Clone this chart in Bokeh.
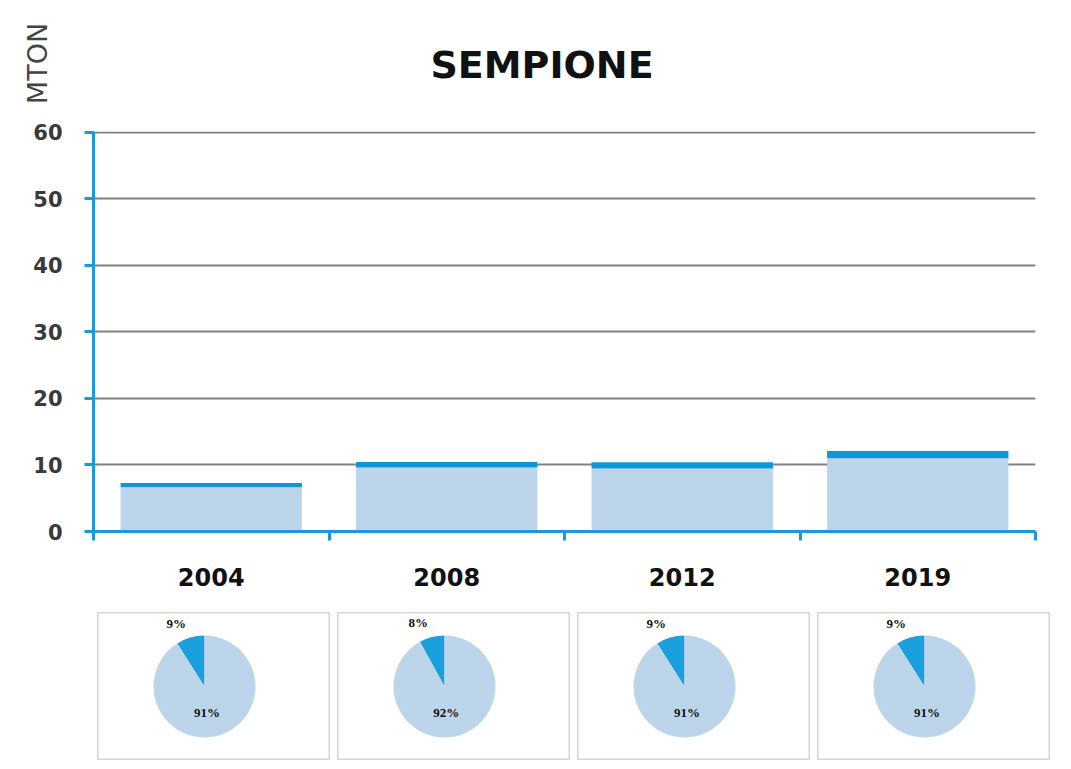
import math
from bokeh.plotting import figure
from bokeh.models import (FactorRange, Range1d, LinearAxis, FixedTicker,
                          ColumnDataSource, Spacer, Grid, CustomJSTickFormatter)
from bokeh.layouts import column, row
from bokeh.embed import file_html
from bokeh.resources import INLINE
from bokeh.core.properties import value

# ---------------- data ----------------
title_text = "SEMPIONE"
unit_label = "MTON"
years = ["2004", "2008", "2012", "2019"]
rail = [6.64, 9.61, 9.46, 11.0]      # light blue part of each bar
road = [0.66, 0.84, 0.94, 1.09]      # dark blue top part of each bar
road_share = [9, 8, 9, 9]            # % shown in the small pies
rail_share = [91, 92, 91, 91]
y_ticks = [0, 10, 20, 30, 40, 50, 60]

RAIL_C = "#bcd5eb"
ROAD_C = "#0e96d5"
PIE_ROAD_C = "#1aa0dc"
AXIS_C = "#1b9ad8"
FONT = "DejaVu Sans"

totals = [a + b for a, b in zip(rail, road)]
src = ColumnDataSource(dict(year=years, rail=rail, total=totals))

W = 1063
LEFT, RIGHT = 93, 28
HEAD_H = 118

# ---------------- header: title + unit label ----------------
h = figure(width=W, height=HEAD_H, x_range=Range1d(LEFT, W - RIGHT), y_range=Range1d(HEAD_H, 8),
           x_axis_location=None, y_axis_location=None,
           toolbar_location=None, output_backend="svg",
           min_border_left=LEFT, min_border_right=RIGHT, min_border_top=8, min_border_bottom=0)
h.outline_line_color = None
for g in h.grid:
    g.visible = False
unit_axis = LinearAxis(ticker=FixedTicker(ticks=[]), axis_line_color=None,
                       major_tick_line_color=None, minor_tick_line_color=None,
                       major_tick_out=0, major_label_standoff=0,
                       axis_label=unit_label, axis_label_standoff=41,
                       axis_label_text_font=FONT, axis_label_text_font_size="27px",
                       axis_label_text_font_style="normal", axis_label_text_color="#444444")
h.add_layout(unit_axis, "left")
h.text(x=[541.5], y=[64], text=[title_text], text_align="center", text_baseline="middle",
       text_font=value(FONT), text_font_size="38px", text_font_style="bold",
       text_color="#111111")

# ---------------- main bar chart ----------------
p = figure(width=W, height=612 - HEAD_H,
           x_range=FactorRange(factors=years), y_range=Range1d(0, 60.15),
           x_axis_location=None, y_axis_location=None,
           toolbar_location=None, output_backend="svg",
           min_border_left=LEFT, min_border_right=RIGHT,
           min_border_top=131 - HEAD_H, min_border_bottom=612 - HEAD_H - (131 - HEAD_H) - 400)
p.outline_line_color = None
for g in p.grid:
    g.visible = False

p.add_layout(Grid(dimension=1, ticker=FixedTicker(ticks=y_ticks[1:]),
                  grid_line_color="#808080", grid_line_width=2))

yax = LinearAxis(ticker=FixedTicker(ticks=y_ticks),
                 axis_line_color=AXIS_C, axis_line_width=3,
                 major_tick_line_color=AXIS_C, major_tick_line_width=3,
                 major_tick_out=9, major_tick_in=0, minor_tick_line_color=None,
                 major_label_standoff=22,
                 major_label_text_font=FONT, major_label_text_font_size="21px",
                 major_label_text_font_style="bold", major_label_text_color="#3a3a3a")
p.add_layout(yax, "left")

# one x axis: labels at category centres, tick marks at category boundaries
n = len(years)
xax = LinearAxis(ticker=FixedTicker(ticks=[i + 0.5 for i in range(n)],
                                    minor_ticks=list(range(n + 1))),
                 formatter=CustomJSTickFormatter(args=dict(names=years),
                                                 code="return names[Math.floor(tick)] || '';"),
                 axis_line_color=AXIS_C, axis_line_width=3,
                 major_tick_line_color=None, major_tick_out=0, major_tick_in=0,
                 minor_tick_line_color=AXIS_C, minor_tick_line_width=3,
                 minor_tick_out=9, minor_tick_in=0,
                 major_label_standoff=27,
                 major_label_text_font=FONT, major_label_text_font_size="24px",
                 major_label_text_font_style="bold", major_label_text_color="#111111")
p.add_layout(xax, "below")

p.vbar(x="year", bottom=0, top="rail", width=0.77, source=src,
       fill_color=RAIL_C, line_color=None)
p.vbar(x="year", bottom="rail", top="total", width=0.77, source=src,
       fill_color=ROAD_C, line_color=None)

# ---------------- small pies ----------------
pies = []
for i, yr in enumerate(years):
    f = figure(width=233, height=148, x_range=Range1d(-107, 126), y_range=Range1d(-74, 74),
               x_axis_location=None, y_axis_location=None,
               toolbar_location=None, output_backend="svg", min_border=0)
    for g in f.grid:
        g.visible = False
    f.outline_line_color = "#d5d5d5"
    f.outline_line_width = 2
    rf = road_share[i] / 100.0
    a0 = math.pi / 2
    a1 = a0 + 2 * math.pi * rf
    a2 = a0 + 2 * math.pi
    ws = ColumnDataSource(dict(start=[a0, a1], end=[a1, a2], color=[PIE_ROAD_C, RAIL_C]))
    f.wedge(x=0, y=0, radius=51, start_angle="start", end_angle="end",
            fill_color="color", line_color=None, source=ws)
    mid_road = a0 + math.pi * rf
    mid_rail = a1 + math.pi * (rail_share[i] / 100.0)
    f.text(x=[66 * math.cos(mid_road)], y=[66 * math.sin(mid_road)],
           text=[f"{road_share[i]}%"], text_align="right", text_baseline="middle",
           text_font=value("Liberation Serif"), text_font_style="bold",
           text_font_size="13px", text_color="#111111")
    f.text(x=[27 * math.cos(mid_rail) - 5], y=[27 * math.sin(mid_rail)],
           text=[f"{rail_share[i]}%"], text_align="center", text_baseline="middle",
           text_font=value("Liberation Serif"), text_font_style="bold",
           text_font_size="13px", text_color="#111111")
    pies.append(f)

pie_row = row([Spacer(width=90, height=148)] + pies, spacing=7)
layout = column(h, p, pie_row, spacing=0)

open("out.html", "w").write(file_html(layout, INLINE))
